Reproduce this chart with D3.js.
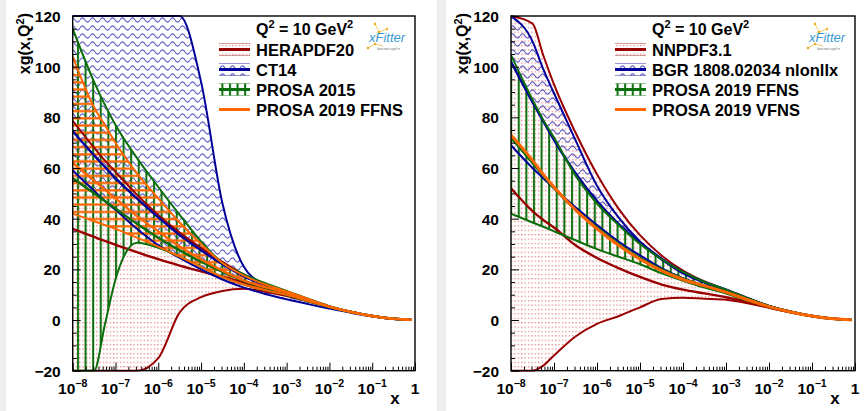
<!DOCTYPE html>
<html><head><meta charset="utf-8">
<script src="https://cdn.jsdelivr.net/npm/d3@7"></script>
<style>
body{margin:0;background:#fff}
svg{display:block}
text{font-family:"Liberation Sans",Arial,Helvetica,sans-serif;font-weight:bold;fill:#000}
</style>
</head><body>
<svg id="c" width="868" height="411"></svg>
<script>
// ---------------- DATA ----------------
const logX = [-8,-7.5,-7.25,-7,-6.5,-6,-5.5,-5,-4.5,-4,-3.5,-3,-2.5,-2,-1.5,-1,-0.5,-0.08];
const yTicks = [-20,0,20,40,60,80,100,120];
const xTickLabels = ["10^-8","10^-7","10^-6","10^-5","10^-4","10^-3","10^-2","10^-1","1"];

// Left panel
const heraUp  = [78.6,68,63,58.5,49.5,41.5,34.5,28.5,23,18,14.2,11.2,8.2,5.4,3.3,1.6,0.5,0.05];
const heraCen = [36,32.8,31.2,29.7,26.8,24,21.5,19.2,17,14.8,12.6,10.3,7.8,5.2,3.2,1.6,0.5,0.05];
const heraLo  = [-200,-150,-125,-100,-60,-15,3,9,11.5,12.3,11.2,9.5,7.3,5.0,3.1,1.6,0.5,0.05];
const ct14Up  = [400,360,330,300,260,220,180,94,46,21,13.8,10.8,8,5.3,3.2,1.6,0.5,0.05];
const ct14Cen = [74.5,65,60.5,56,48,40.5,33.5,27.5,22,17.2,13.8,10.9,8,5.3,3.2,1.6,0.5,0.05];
const ct14Lo  = [59,51,47,43.5,36,29.5,24.5,20,16,12.8,10.3,8.2,6.3,4.5,2.9,1.4,0.4,0.05];
const p15Up   = [115,94,85,77,64,52.5,41.5,31,22.5,18,14.5,11.5,8.4,5.5,3.3,1.6,0.5,0.05];
const p15Cen  = [56,50,47,44,38,32.5,27.5,23,19,15.5,12.8,10.5,7.8,5.2,3.2,1.6,0.5,0.05];
const p15Lo   = [-150,-30,-2,16,30.5,28.5,25,21,17,14,11.8,9.8,7.4,5,3.1,1.5,0.5,0.05];
const p19Up   = [104,84,77,70,58,48,38.5,30,22.5,17.5,14,11.3,8.3,5.4,3.3,1.6,0.5,0.05];
const p19Cen  = [62,55,51.5,48,41,35,29,24,19.5,15.6,13,10.8,8,5.3,3.2,1.6,0.5,0.05];
const p19Lo   = [42,39,37.5,36,32.5,29,25,21,17,14,11.8,10,7.5,5.1,3.1,1.5,0.5,0.05];

// Right panel
const nnUp   = [150,117,104.5,93,74,57.5,44,33.5,25.5,19.5,15.2,12,8.6,5.6,3.4,1.7,0.5,0.05];
const nnCen  = [52,43,39.5,36.5,29.5,24.5,20.5,17,14,12,10.5,9,7.2,5,3.1,1.5,0.5,0.05];
const nnLo   = [-100,-26,-18,-14,-6.5,-1.5,1.5,5,8.3,8.8,8.4,8,6.6,4.8,3,1.5,0.5,0.05];
const bgrUp  = [138,110,99,89.5,71,53,40.5,31,24.3,19,15,12.1,8.7,5.6,3.4,1.6,0.5,0.05];
const bgrCen = [102,86,78.5,71,58,47,38,30.5,24,18.5,14.8,11.8,8.5,5.5,3.3,1.6,0.5,0.05];
const bgrLo  = [69,60,56,52,44.5,37.5,31,25.5,20.5,16.5,13.5,11,8,5.3,3.2,1.6,0.5,0.05];
const pffUp  = [104.6,87,79,72,57,46,37.5,30,24,19,15,12,8.6,5.6,3.4,1.7,0.5,0.05];
const pffCen = [72,62,57,52,43.5,36.5,30,24.5,20,16.3,13.5,11,8,5.3,3.2,1.6,0.5,0.05];
const pffLo  = [42,38.5,36.8,35,31.5,28,25,22,18.5,15.5,12.8,10.5,7.7,5.1,3.1,1.5,0.5,0.05];
const pvfCen = [73,63,57.5,52.5,43.5,36,29.5,24,19.5,16,13.5,11,8,5.3,3.2,1.6,0.5,0.05];

const leftLabels  = ["HERAPDF20","CT14","PROSA 2015","PROSA 2019 FFNS"];
const rightLabels = ["NNPDF3.1","BGR 1808.02034 nlonllx","PROSA 2019 FFNS","PROSA 2019 VFNS"];

// ---------------- STYLE ----------------
const C_RED="#990000", C_BLUE="#000099", C_GREEN="#0a6e0a", C_ORANGE="#ff6600";

const svg=d3.select("#c");
svg.append("rect").attr("width",868).attr("height",411).attr("fill","#fff");
svg.append("rect").attr("x",0).attr("width",6).attr("height",411).attr("fill","#eeeeee");
svg.append("rect").attr("x",437).attr("width",9).attr("height",411).attr("fill","#eeeeee");

const defs=svg.append("defs");
function pat(id,w,h){return defs.append("pattern").attr("id",id).attr("patternUnits","userSpaceOnUse").attr("width",w).attr("height",h);}
const pd=pat("dots",3.4,4.4);
pd.append("rect").attr("x",1).attr("y",1).attr("width",1.1).attr("height",1.1).attr("fill","#dd3b3b").attr("opacity",0.85);
const pw=pat("wavy",10,8);
pw.append("path").attr("d","M0,4 C1.6,1.2 3.4,1.2 5,4 C6.6,6.8 8.4,6.8 10,4").attr("fill","none").attr("stroke","#2a2ab4").attr("stroke-width",1.1).attr("opacity",0.75);
const pv=pat("vhatch",7.6,4);
pv.append("rect").attr("x",1).attr("y",0).attr("width",2).attr("height",4).attr("fill",C_GREEN);
const ph=pat("hhatch",4,7.2);
ph.append("rect").attr("x",0).attr("y",2).attr("width",4).attr("height",2.2).attr("fill",C_ORANGE);

const yTop=16, yBot=370.7;

function drawPanel(cfg){
  const g=svg.append("g");
  const x=d3.scaleLog().domain([1e-8,1]).range([cfg.x0,cfg.x1]);
  const y=d3.scaleLinear().domain([-20,120]).range([yBot,yTop]).clamp(true);
  const cid="clip"+cfg.id;
  defs.append("clipPath").attr("id",cid).append("rect")
    .attr("x",cfg.x0).attr("y",yTop-1).attr("width",cfg.x1-cfg.x0).attr("height",yBot-yTop+2);
  const plot=g.append("g").attr("clip-path",`url(#${cid})`);
  const pts=arr=>arr.map((v,i)=>[Math.pow(10,logX[i]),v]);
  const area=(lo,up)=>d3.area().x((d,i)=>x(Math.pow(10,logX[i]))).y0((d,i)=>y(lo[i])).y1((d,i)=>y(up[i])).curve(d3.curveMonotoneX)(lo);
  const line=arr=>d3.line().x(d=>x(d[0])).y(d=>y(d[1])).curve(d3.curveMonotoneX)(pts(arr));
  cfg.sets.forEach(s=>{ if(s.fill) plot.append("path").attr("d",area(s.fillLo||s.lo,s.up)).attr("fill",`url(#${s.fill})`); });
  cfg.sets.forEach(s=>{
    if(s.up){
      plot.append("path").attr("d",line(s.up)).attr("fill","none").attr("stroke",s.color).attr("stroke-width",2);
      plot.append("path").attr("d",line(s.lo)).attr("fill","none").attr("stroke",s.color).attr("stroke-width",2);
    }
    plot.append("path").attr("d",line(s.cen)).attr("fill","none").attr("stroke",s.color).attr("stroke-width",s.cw||2.4);
  });
  // axes
  const ya=g.append("g").attr("transform",`translate(${cfg.x0},0)`)
    .call(d3.axisLeft(y).tickValues(yTicks).tickSize(-8).tickFormat(d=>d<0?"\u2212"+Math.abs(d):d).tickPadding(12));
  ya.select(".domain").remove();
  ya.selectAll("text").style("font-size","15.5px").attr("dy","0.36em");
  const minorY=d3.range(-20,121,5).filter(v=>v%20!==0);
  g.append("g").attr("transform",`translate(${cfg.x0},0)`)
    .call(d3.axisLeft(y).tickValues(minorY).tickSize(-4).tickFormat("")).select(".domain").remove();
  const majX=d3.range(-8,1).map(e=>Math.pow(10,e));
  const xa=g.append("g").attr("transform",`translate(0,${yBot})`)
    .call(d3.axisBottom(x).tickValues(majX).tickSize(-8).tickFormat(""));
  xa.select(".domain").remove();
  const minX=[];
  for(let e=-8;e<0;e++) for(let m=2;m<10;m++) minX.push(m*Math.pow(10,e));
  g.append("g").attr("transform",`translate(0,${yBot})`)
    .call(d3.axisBottom(x).tickValues(minX).tickSize(-4).tickFormat("")).select(".domain").remove();
  g.selectAll(".tick line").attr("stroke","#000").attr("stroke-width",1);
  // x labels
  xTickLabels.forEach((lab,i)=>{
    const t=g.append("text").attr("x",x(majX[i])).attr("y",394).attr("text-anchor","middle").style("font-size","15.5px");
    const p=lab.split("^");
    t.append("tspan").text(p[0]);
    if(p[1]) t.append("tspan").attr("dy","-7").style("font-size","10.5px").text(p[1].replace("-","\u2212"));
  });
  // frame
  g.append("rect").attr("x",cfg.x0).attr("y",yTop).attr("width",cfg.x1-cfg.x0).attr("height",yBot-yTop)
    .attr("fill","none").attr("stroke","#000").attr("stroke-width",1.4);
  // titles
  const yt=g.append("text").attr("transform",`translate(${cfg.x0-43},13) rotate(-90)`).attr("text-anchor","end").style("font-size","16px");
  yt.append("tspan").text("xg(x,Q");
  yt.append("tspan").attr("dy","-6").style("font-size","11px").text("2");
  yt.append("tspan").attr("dy","6").text(")");
  g.append("text").attr("x",cfg.x1-20).attr("y",404).attr("text-anchor","middle").style("font-size","17px").text("x");
  // legend
  const lx=cfg.lx;
  const q=g.append("text").attr("x",lx).attr("y",35).style("font-size","16px");
  q.append("tspan").text("Q");
  q.append("tspan").attr("dy","-7").style("font-size","11px").text("2");
  q.append("tspan").attr("dy","7").text(" = 10 GeV");
  q.append("tspan").attr("dy","-7").style("font-size","11px").text("2");
  cfg.sets.forEach((s,i)=>{
    const cy=49.5+20*i;
    const sx=lx-37, sw=31;
    if(s.fill && s.legFill!==false){
      g.append("rect").attr("x",sx).attr("y",cy-6).attr("width",sw).attr("height",12).attr("fill",`url(#${s.fill})`);
      g.append("line").attr("x1",sx).attr("x2",sx+sw).attr("y1",cy-6).attr("y2",cy-6).attr("stroke",s.color).attr("stroke-width",0.8).attr("opacity",0.5);
      g.append("line").attr("x1",sx).attr("x2",sx+sw).attr("y1",cy+6).attr("y2",cy+6).attr("stroke",s.color).attr("stroke-width",0.8).attr("opacity",0.5);
    }
    g.append("line").attr("x1",sx).attr("x2",sx+sw).attr("y1",cy).attr("y2",cy).attr("stroke",s.color).attr("stroke-width",3);
    g.append("text").attr("x",lx).attr("y",cy+6).style("font-size","16.5px").text(cfg.labels[i]);
  });
  // xFitter logo
  const L=g.append("g").attr("transform",`translate(${cfg.x1-50},22)`);
  L.append("path").attr("d","M10,2 L14,10 L11,16 M14,10 L22,7 M3,26 L10,22 L18,24").attr("fill","none").attr("stroke","#f5c242").attr("stroke-width",0.8);
  [[10,2],[14,10],[22,7],[3,26],[10,22]].forEach(p=>L.append("circle").attr("cx",p[0]).attr("cy",p[1]).attr("r",1.3).attr("fill","#f0b020"));
  L.append("text").attr("x",4).attr("y",20).style("font-size","13px").style("font-style","italic").style("font-weight","normal").style("fill","#3a9ad9").text("xFitter");
  L.append("text").attr("x",12).attr("y",28).style("font-size","3.5px").style("font-weight","normal").style("fill","#666").text("fast not a girl n");
}

drawPanel({id:1,x0:72.7,x1:415,lx:256,labels:leftLabels,sets:[
  {up:heraUp,cen:heraCen,lo:heraLo,color:C_RED,fill:"dots"},
  {up:ct14Up,cen:ct14Cen,lo:ct14Lo,color:C_BLUE,fill:"wavy"},
  {up:p15Up,cen:p15Cen,lo:p15Lo,color:C_GREEN,fill:"vhatch"},
  {up:p19Up,cen:p19Cen,lo:p19Lo,color:C_ORANGE,fill:"hhatch",legFill:false}
]});
drawPanel({id:2,x0:511,x1:855,lx:652,labels:rightLabels,sets:[
  {up:nnUp,cen:nnCen,lo:nnLo,color:C_RED,fill:"dots"},
  {up:bgrUp,cen:bgrCen,lo:bgrLo,fillLo:bgrCen,color:C_BLUE,fill:"wavy"},
  {up:pffUp,cen:pffCen,lo:pffLo,color:C_GREEN,fill:"vhatch"},
  {cen:pvfCen,color:C_ORANGE,cw:3}
]});
</script>
</body></html>
